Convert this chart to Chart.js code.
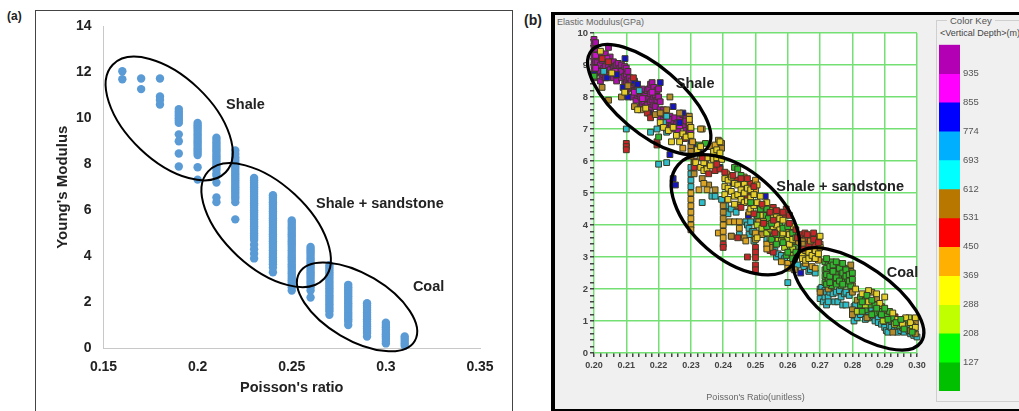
<!DOCTYPE html>
<html>
<head>
<meta charset="utf-8">
<title>Young's modulus vs Poisson's ratio</title>
<script src="https://cdn.jsdelivr.net/npm/chart.js@4"></script>
<style>
  html, body { margin: 0; padding: 0; background: #fff; overflow: hidden; }
  body { width: 1019px; height: 411px; position: relative; font-family: "Liberation Sans", Arial, sans-serif; }
  canvas { position: absolute; }
  .tag { position: absolute; font-weight: bold; color: #222; }
  #frameA { position: absolute; left: 35px; top: 10px; width: 476px; height: 420px; border: 1px solid #444; }
  #frameB { position: absolute; left: 551px; top: 12px; width: 480px; height: 394px; border: 3px solid #000; border-left-width: 4px; background: #f0f0f0; }
  #keyBox { position: absolute; left: 936px; top: 20px; width: 100px; height: 380px; border: 1px solid #cfcfcf; }
  #keyTitle { position: absolute; left: 947px; top: 15px; padding: 0 3px; background: #f0f0f0; font-size: 9.5px; color: #555; }
  #keySub { position: absolute; left: 940px; top: 28px; font-size: 9px; color: #444; white-space: nowrap; }
  #yTitleB { position: absolute; left: 557px; top: 17px; font-size: 9px; color: #666; white-space: nowrap; }
</style>
</head>
<body>
<div class="tag" style="left:7px;top:9px;font-size:12px">(a)</div>
<div class="tag" style="left:524px;top:12px;font-size:14px">(b)</div>
<div id="frameA"></div>
<div id="frameB"></div>
<div id="keyBox"></div>
<div id="keyTitle">Color Key</div>
<div id="keySub">&lt;Vertical Depth&gt;(m)</div>
<div id="yTitleB">Elastic Modulus(GPa)</div>
<canvas id="chartA" style="left:36px;top:6px" width="475" height="405"></canvas>
<canvas id="chartB" style="left:555px;top:15px" width="380" height="392"></canvas>
<canvas id="chartKey" style="left:936px;top:36px" width="83" height="375"></canvas>

<script>
// Each column is [poisson, modulus, modulus, ...]

// (a) Excel scatter
const excelColumns = [
  [0.16, 12.05, 11.7],
  [0.17, 11.73, 11.27],
  [0.18, 11.73, 10.95, 10.8, 10.6],
  [0.19, 10.4, 10.3, 10.2, 10.1, 10, 9.9, 9.8, 9.3, 9, 8.47, 7.9],
  [0.2, 9.8, 9.7, 9.6, 9.5, 9.4, 9.3, 9.2, 9.1, 9, 8.9, 8.8, 8.7, 8.6, 8.5, 8.4, 7.87, 7.33],
  [0.21, 9.15, 9.05, 8.95, 8.85, 8.75, 8.65, 8.55, 8.45, 8.35, 8.25, 8.15, 8.05, 7.95, 7.85, 7.75, 7.6, 7.5, 7.2, 6.55, 6.35],
  [0.22, 8.6, 8.45, 8.3, 8.2, 8.1, 8, 7.9, 7.8, 7.7, 7.6, 7.5, 7.4, 7.3, 7.2, 7.1, 7, 6.9, 6.8, 6.7, 6.6, 6.5, 6.35, 5.6],
  [0.23, 7.4, 7.3, 7.2, 7.1, 7, 6.9, 6.8, 6.7, 6.6, 6.5, 6.4, 6.3, 6.2, 6.1, 6, 5.9, 5.8, 5.7, 5.6, 5.5, 5.4, 5.3, 5.2, 5.1, 5, 4.9, 4.8, 4.7, 4.5, 4.3, 4.1, 3.9],
  [0.24, 6.65, 6.55, 6.45, 6.35, 6.25, 6.15, 6.05, 5.95, 5.85, 5.75, 5.65, 5.55, 5.45, 5.35, 5.25, 5.15, 5.05, 4.95, 4.85, 4.75, 4.65, 4.55, 4.45, 4.35, 4.25, 4.15, 4.05, 3.95, 3.85, 3.75, 3.65, 3.5, 3.3],
  [0.25, 5.55, 5.45, 5.35, 5.25, 5.15, 5.05, 4.95, 4.85, 4.75, 4.65, 4.55, 4.45, 4.35, 4.25, 4.15, 4.05, 3.95, 3.85, 3.75, 3.65, 3.55, 3.45, 3.35, 3.25, 3.15, 3.05, 2.95, 2.85, 2.75, 2.65, 2.5],
  [0.26, 4.4, 4.3, 4.2, 4.1, 4, 3.9, 3.8, 3.7, 3.6, 3.5, 3.4, 3.3, 3.2, 3.1, 3, 2.9, 2.8, 2.65, 2.5, 2.2],
  [0.27, 3.6, 3.5, 3.4, 3.3, 3.2, 3.1, 3, 2.9, 2.8, 2.7, 2.6, 2.5, 2.4, 2.3, 2.2, 2.1, 2, 1.9, 1.8, 1.7, 1.6, 1.45],
  [0.28, 2.75, 2.65, 2.55, 2.45, 2.35, 2.25, 2.15, 2.05, 1.95, 1.85, 1.75, 1.65, 1.55, 1.45, 1.35, 1.25, 1.15, 1],
  [0.29, 1.95, 1.85, 1.75, 1.65, 1.55, 1.45, 1.35, 1.25, 1.15, 1.05, 0.95, 0.85, 0.75, 0.65, 0.5],
  [0.3, 1.1, 1, 0.9, 0.8, 0.7, 0.6, 0.5, 0.4, 0.3, 0.2],
  [0.31, 0.5, 0.4, 0.3, 0.2, 0.1]
];

// (b) crossplot, one list per depth colour, topmost first
const redFrontColumns = [
  [0.2335, 6.1], [0.2355, 5.6], [0.238, 5.9], [0.2405, 5.65], [0.243, 5.55], [0.2455, 5.45, 4.55], [0.2475, 5.45], [0.2495, 5.2, 4.35],
  [0.252, 4.65], [0.2525, 4.05], [0.2545, 4.4], [0.2555, 4.15], [0.256, 3.75], [0.2565, 4.45], [0.2585, 4.4], [0.2605, 4.05],
  [0.2625, 3.85], [0.263, 3.6], [0.2645, 3.25], [0.266, 3.7], [0.268, 3.55], [0.2695, 3.45]
];
const greenFrontColumns = [
  [0.2455, 5.55], [0.2485, 4.7], [0.2505, 4.3], [0.2535, 4.5, 3.95], [0.255, 4.05, 3.55], [0.2565, 3.7, 3.4], [0.2585, 3.9, 3.45],
  [0.26, 3.95, 3.15], [0.2615, 3.75, 2.95], [0.2625, 3.6, 3.15], [0.272, 2.95, 2.65, 2.45, 2.15], [0.273, 2.7, 2.4, 2.2],
  [0.274, 2.75, 2.55], [0.275, 2.85, 2.35, 2.15], [0.276, 2.65, 2.25], [0.277, 2.8, 2.5, 2.15], [0.278, 2.6, 2.4], [0.279, 2.45, 2.25],
  [0.28, 2.5, 2.3], [0.283, 1.6, 1.3], [0.2845, 1.8], [0.286, 1.65, 1.2], [0.2875, 1.4], [0.289, 1.2], [0.29, 1.4], [0.291, 1.05],
  [0.2935, 0.95], [0.295, 1.05], [0.296, 0.75], [0.2985, 0.65]
];
const yellowColumns = [
  [0.202, 9.43], [0.2055, 8.75], [0.2095, 8.15], [0.2135, 7.6], [0.216, 7.65], [0.2205, 7.2], [0.2215, 7.05],
  [0.223, 6.95], [0.224, 6.6], [0.2245, 7.05], [0.2255, 6.8], [0.2265, 6.6], [0.2275, 6.85], [0.2285, 6.75],
  [0.2295, 7.3], [0.23, 7.05, 6.8], [0.232, 6.35], [0.233, 6.45, 6.15], [0.2315, 5.95], [0.233, 5.8],
  [0.234, 5.95, 5.7], [0.235, 6.1, 5.75], [0.236, 5.85], [0.237, 6.3, 6.05], [0.238, 6.35, 6.1], [0.239, 6.6, 6.25],
  [0.2395, 6.05], [0.2405, 5.45, 5.2, 4.95], [0.2415, 5.4, 5.15, 4.8], [0.2425, 5.5, 5.05], [0.2435, 5.3, 4.9, 4.65],
  [0.2445, 5.25, 4.95], [0.2455, 5.1, 4.8], [0.2465, 5.3, 5, 4.7], [0.2475, 5.15, 4.75], [0.2485, 5.1, 4.85, 4.5],
  [0.2495, 4.95, 4.6], [0.2505, 5.25, 4.7, 3.6], [0.2515, 4.9, 4.3], [0.2525, 4.6, 4.1], [0.2535, 4.7, 4],
  [0.2545, 4.45, 3.9], [0.2555, 4.3, 3.95], [0.2565, 4.25, 4], [0.2575, 4.2, 3.85], [0.2585, 4.15, 3.75],
  [0.2595, 3.9], [0.2605, 3.7, 3.4], [0.2615, 3.95, 3.55], [0.2645, 3.1, 2.95], [0.2655, 3.2, 2.9],
  [0.2665, 3.15, 2.95], [0.2675, 3.05], [0.2685, 3.2, 2.95], [0.2695, 3.1], [0.27, 3.65, 3.3], [0.281, 2],
  [0.283, 1.85], [0.285, 1.95, 1.6], [0.2875, 1.85], [0.2885, 1.55], [0.29, 1.75], [0.2925, 1.25], [0.294, 1.05],
  [0.2955, 0.9], [0.2965, 1.1], [0.298, 0.95], [0.2995, 1.1, 0.8]
];
const limeColumns = [
  [0.2505, 4], [0.252, 3.9], [0.2535, 3.75], [0.255, 3.85], [0.257, 3.55], [0.258, 3.7, 3.5], [0.259, 3.3],
  [0.26, 3.8, 3.55], [0.2615, 3.25, 3.05], [0.262, 3.8], [0.2645, 3], [0.266, 3.05], [0.2675, 3.2], [0.269, 3.1],
  [0.2815, 1.3], [0.284, 1.5], [0.2895, 1], [0.293, 0.9], [0.296, 0.85], [0.2975, 1.1], [0.2985, 0.85]
];
const greenColumns = [
  [0.2, 8.65], [0.22, 6.75], [0.2325, 6.5], [0.2345, 6.55], [0.2435, 5.8], [0.2445, 5.75], [0.2515, 4.5],
  [0.2525, 4.3], [0.254, 4.2], [0.2555, 3.65], [0.256, 4], [0.2575, 4], [0.259, 3.65], [0.2595, 3.05], [0.2605, 3.3],
  [0.2615, 3.5], [0.262, 3.3], [0.263, 3.1], [0.2715, 2.85, 2.6, 2.4, 2.2], [0.2725, 2.75, 2.5, 2.3],
  [0.2735, 2.85, 2.6, 2.35, 2.1], [0.2745, 2.5, 2.3], [0.2755, 2.7, 2.45, 2.2], [0.2765, 2.55, 2.35, 2.1],
  [0.2775, 2.65, 2.4, 2.25], [0.2785, 2.5, 2.3, 2.15], [0.2795, 2.35, 2.1], [0.2825, 1.75, 1.5], [0.284, 1.65, 1.35],
  [0.2855, 1.5], [0.287, 1.5, 1.25], [0.2885, 1.3], [0.2905, 1.15], [0.2915, 1.3], [0.2925, 1.1], [0.2945, 0.85],
  [0.297, 0.95], [0.299, 0.75]
];
const orangeColumns = [
  [0.23, 5, 4.8, 4.6, 4.4, 4.2, 4, 3.85], [0.2275, 6.4], [0.2305, 6.6], [0.233, 7], [0.2325, 5.1], [0.234, 5.3],
  [0.235, 5.1], [0.2375, 6.5], [0.2385, 3.75], [0.24, 4, 3.8, 3.6], [0.241, 5.6], [0.242, 4.1], [0.2435, 4.1],
  [0.2445, 4.6], [0.245, 4.1, 3.9], [0.2465, 5.5], [0.247, 3.5], [0.248, 4.4], [0.25, 5.4, 5.1, 3.75, 3.55],
  [0.251, 4.1], [0.2535, 3.4, 3.25], [0.2545, 3.6], [0.258, 2.85], [0.26, 2.8, 2.65], [0.262, 2.6], [0.2655, 2.8],
  [0.2675, 2.7], [0.2685, 2.65], [0.2695, 2.9]
];
const brownColumns = [
  [0.2025, 8.3], [0.2045, 7.9], [0.2085, 8], [0.2105, 8.35], [0.2125, 7.7], [0.2145, 7.6], [0.219, 7.45], [0.2205, 7.5],
  [0.2225, 7.6], [0.2235, 8], [0.2265, 7.5], [0.2295, 7.4, 7.2], [0.23, 6.45, 6.3, 6.15], [0.2335, 7], [0.231, 5.6],
  [0.2335, 5.45], [0.2355, 5.25], [0.236, 6.45], [0.2375, 5.1], [0.2385, 6.65], [0.2395, 6.55, 6.4], [0.24, 4.6, 4.4, 4.2],
  [0.2425, 3.65], [0.2465, 3.6], [0.252, 3.7], [0.2545, 3.45, 3.3], [0.2605, 2.8], [0.2625, 3.45], [0.2645, 3.5, 3.4],
  [0.267, 3.5], [0.27, 3.4, 1.9], [0.2725, 2], [0.2755, 2.4], [0.2785, 2.3], [0.2795, 2.75, 2.55], [0.28, 2.1, 1.9, 1.35, 1.2],
  [0.2815, 1.65], [0.2835, 1.6], [0.2845, 1.1], [0.286, 1.9], [0.2875, 1.7], [0.289, 1.45], [0.291, 1.3], [0.2925, 0.65],
  [0.2935, 1.05], [0.2955, 0.8], [0.298, 0.7], [0.2995, 0.95, 0.6]
];
const redColumns = [
  [0.2025, 9.2], [0.2045, 9.1], [0.21, 6.55, 6.45, 6.35], [0.2122, 8.6], [0.2165, 7.5], [0.2175, 7.35], [0.2195, 6.6, 6.5],
  [0.228, 6.7], [0.231, 6, 5.8], [0.2345, 5.9], [0.2375, 5.7], [0.239, 5.75], [0.24, 3.4, 3.3], [0.2415, 5.5], [0.2425, 3.65],
  [0.244, 5.4], [0.2445, 3.6], [0.246, 5.2], [0.2465, 5.35], [0.2475, 4.9, 3], [0.2485, 5.3], [0.25, 5.25, 3.3, 3.15, 2.98, 2.75, 2.6],
  [0.2515, 4.5], [0.2535, 4.3], [0.2545, 3.2], [0.2555, 4.55, 3.15], [0.2575, 4.4], [0.2585, 4.25], [0.2595, 4.5], [0.2605, 4.3],
  [0.264, 3.7], [0.2653, 3.75], [0.2655, 3.55], [0.2665, 3.4], [0.267, 3.65], [0.268, 3.75], [0.2685, 3.4], [0.2695, 3.6],
  [0.2767, 2.8], [0.2932, 1.13]
];
const cyanColumns = [
  [0.203, 8.8], [0.21, 7], [0.214, 8.2], [0.2175, 6.9], [0.2195, 7], [0.22, 5.9], [0.2215, 7.2], [0.2225, 7.4, 6.9, 5.95],
  [0.23, 5.8, 5.6, 5.4, 5.2], [0.2335, 4.7], [0.2365, 4.9], [0.2375, 4.9], [0.2395, 4.8], [0.2408, 4.6, 4.4], [0.2415, 4.35],
  [0.2425, 4.5], [0.244, 4.4], [0.245, 3.7], [0.247, 4.1], [0.2475, 4], [0.248, 3.9, 3.7], [0.2485, 4.1], [0.249, 3.8], [0.2495, 3.8, 3.5],
  [0.2505, 4.2], [0.252, 3.8], [0.2535, 3.55], [0.255, 3.4], [0.256, 3.2], [0.2565, 3], [0.257, 3.1], [0.258, 3.05], [0.259, 2.95],
  [0.26, 2.2], [0.261, 2.8], [0.262, 2.9], [0.2625, 2.7], [0.263, 2.75], [0.265, 2.7], [0.2665, 2.55], [0.267, 2.6], [0.2685, 2.5],
  [0.27, 2, 1.7], [0.2705, 2.05], [0.271, 1.6], [0.2715, 1.95, 1.75], [0.272, 1.9, 1.5], [0.2725, 1.75, 1.6], [0.273, 1.9], [0.274, 1.85],
  [0.2745, 1.6], [0.275, 1.9], [0.2755, 1.6], [0.276, 1.95], [0.2765, 1.75], [0.277, 1.5], [0.2775, 1.85], [0.278, 1.9, 1.5], [0.279, 1.8],
  [0.28, 1.2], [0.2805, 1.45, 1], [0.281, 1.5], [0.2815, 1.1], [0.282, 1.3], [0.2825, 1.2], [0.283, 1.4], [0.284, 1.3, 1.05],
  [0.285, 1.3, 1.1], [0.286, 1.4], [0.2865, 1.15], [0.287, 1], [0.288, 1.1, 0.95], [0.289, 0.9], [0.29, 0.95, 0.8], [0.2905, 0.7],
  [0.291, 0.65], [0.2915, 0.85], [0.292, 1, 0.8], [0.293, 0.95, 0.7], [0.294, 0.75, 0.65], [0.295, 0.9, 0.7], [0.296, 0.65],
  [0.2965, 0.8], [0.297, 0.85], [0.2975, 0.7], [0.298, 0.6], [0.299, 0.7, 0.55], [0.3, 0.5]
];
const blueColumns = [
  [0.2, 8.7], [0.204, 8.6], [0.207, 8.7], [0.209, 8.3], [0.2096, 9.2], [0.2105, 8], [0.2125, 8.5], [0.2135, 8.4], [0.217, 7.5],
  [0.2205, 8.45], [0.2235, 6.2], [0.2245, 7.7, 5.45], [0.2252, 5.25], [0.2265, 7.2], [0.2275, 7.5], [0.23, 6.6], [0.231, 6.5],
  [0.2325, 6.4], [0.237, 6.1], [0.239, 5.8], [0.243, 5.3], [0.2478, 4.3], [0.253, 4.9], [0.264, 2.5]
];
const magentaColumns = [
  [0.2005, 9.3, 8.9], [0.204, 9.2], [0.2065, 8.8], [0.2125, 8.15], [0.215, 7.95], [0.218, 8.15], [0.223, 7.3], [0.2265, 7.1]
];
const purpleColumns = [
  [0.2, 9.8, 9.6, 9.4, 9.2, 9, 8.8, 8.6], [0.2005, 9.7, 9.5, 9.1], [0.201, 9.1, 8.9], [0.2015, 9.25, 8.75], [0.202, 9.3, 9, 8.8, 8.5],
  [0.2025, 9.15, 8.65], [0.203, 9.2, 8.9, 8.7], [0.2035, 9.35, 8.95, 8.6], [0.2045, 9.55, 9, 8.7], [0.205, 9.25, 8.85], [0.2055, 9.05],
  [0.206, 9.1, 8.9, 8.6], [0.2065, 8.95, 8.75], [0.207, 9, 8.7, 8.5], [0.2075, 9.05, 8.8], [0.208, 8.9], [0.2085, 9, 8.8, 8.6],
  [0.2095, 8.95, 8.65, 8.4], [0.21, 8.9, 8.7, 8.45, 8.2], [0.2105, 8.8, 8.55], [0.211, 8.6, 8.4], [0.2115, 8.5, 8.25], [0.212, 8.3, 8],
  [0.2125, 8.45, 8.2], [0.213, 8.4, 8.2, 7.9], [0.2135, 8.3, 8.05], [0.214, 8.1], [0.2145, 8.2, 8, 7.7], [0.215, 8.25, 7.8],
  [0.2155, 8.05, 7.85], [0.216, 8.05, 7.7], [0.2165, 8.2, 7.95, 7.75], [0.217, 8.25, 7.95], [0.2175, 8.4, 8.1, 7.85, 7.6],
  [0.218, 8.45, 7.9], [0.2185, 8.3, 8, 7.75], [0.219, 8.05, 7.7], [0.2195, 8.2, 7.9], [0.22, 8.25, 8], [0.2205, 7.85, 7.6, 7.35],
  [0.2215, 7.6, 7.3], [0.222, 7.45, 7.15], [0.2225, 7.3, 7], [0.2235, 7.4, 7.2], [0.224, 7.1], [0.2245, 7.25], [0.225, 7.35, 7],
  [0.2255, 7.15], [0.226, 7.2, 6.95], [0.2265, 7.35], [0.2275, 7.45, 7.1], [0.2285, 7.4, 7.25, 6.95], [0.2295, 7.15, 7.05, 6.9], [0.23, 6.95]
];

// Colour key, deepest band first
const keyDepths = [935, 855, 774, 693, 612, 531, 450, 369, 288, 208, 127];
const keyBands = [[935, 1016], [855, 935], [774, 855], [693, 774], [612, 693], [531, 612], [450, 531], [369, 450], [288, 369], [208, 288], [127, 208], [46, 127]];
const keyColors = ["#b400b4", "#ff00ff", "#0000ff", "#00b0ff", "#00ffff", "#b87800", "#ff0000", "#ffb000", "#ffff00", "#c0ff00", "#00ff00", "#00c000"];

const toPoints = (columns) => columns.flatMap(([x, ...ys]) => ys.map((y) => ({ x, y })));

const boldFont = (size) => ({ family: "'Liberation Sans'", size, weight: "bold" });

// Draws the hand-drawn ellipses and rock labels in data coordinates
const notesPlugin = {
  id: "notes",
  beforeDraw(chart, args, opts) {
    if (!opts.plotFill) return;
    const { left, top, width, height } = chart.chartArea;
    chart.ctx.fillStyle = opts.plotFill;
    chart.ctx.fillRect(left, top, width, height);
  },
  afterDatasetsDraw(chart, args, opts) {
    const { ctx, scales } = chart;
    ctx.save();
    ctx.strokeStyle = "#000";
    ctx.lineWidth = opts.lineWidth;
    (opts.ellipses || []).forEach((e) => {
      ctx.beginPath();
      ctx.ellipse(scales.x.getPixelForValue(e.x), scales.y.getPixelForValue(e.y), e.a, e.b, (e.angle * Math.PI) / 180, 0, Math.PI * 2);
      ctx.stroke();
    });
    ctx.fillStyle = "#222";
    ctx.font = "bold 14.5px 'Liberation Sans'";
    ctx.textAlign = "center";
    ctx.textBaseline = "middle";
    (opts.labels || []).forEach((l) => {
      ctx.fillText(l.text, scales.x.getPixelForValue(l.x), scales.y.getPixelForValue(l.y));
    });
    ctx.restore();
  },
};
Chart.register(notesPlugin);
Chart.defaults.animation = false;
Chart.defaults.responsive = false;
Chart.defaults.plugins.legend.display = false;
Chart.defaults.plugins.tooltip.enabled = false;

new Chart(document.getElementById("chartA"), {
  type: "scatter",
  data: {
    datasets: [
      {
        data: toPoints(excelColumns),
        backgroundColor: "#5b9bd5",
        borderWidth: 0,
        pointRadius: 4.2,
        clip: false,
      },
    ],
  },
  options: {
    layout: { padding: { left: 0, right: 31, top: 19, bottom: 0 } },
    scales: {
      x: {
        min: 0.15,
        max: 0.35,
        afterFit: (s) => { s.height = 63; },
        grid: { display: false, drawTicks: false },
        border: { color: "#c8c8c8" },
        ticks: {
          stepSize: 0.05,
          padding: 11,
          maxRotation: 0,
          color: "#222",
          font: boldFont(14),
          callback: (v) => String(Number(v.toFixed(2))),
        },
        title: { display: true, text: "Poisson's ratio", color: "#222", font: boldFont(14.5), padding: { top: 0, bottom: 14 } },
      },
      y: {
        min: 0,
        max: 14,
        afterFit: (s) => { s.width = 67.5; },
        grid: { display: false, drawTicks: false },
        border: { color: "#c8c8c8" },
        ticks: { stepSize: 2, padding: 12, color: "#222", font: boldFont(14) },
        title: { display: true, text: "Young's Modulus", color: "#222", font: boldFont(15), padding: { top: 18, bottom: 0 } },
      },
    },
    plugins: {
      notes: {
        lineWidth: 2,
        ellipses: [
          { x: 0.1849, y: 9.99, a: 78, b: 42, angle: 43.6 },
          { x: 0.2364, y: 5.35, a: 79, b: 42, angle: 42.8 },
          { x: 0.2847, y: 1.79, a: 67, b: 33, angle: 30.6 },
        ],
        labels: [
          { text: "Shale", x: 0.2254, y: 10.56 },
          { text: "Shale + sandstone", x: 0.2968, y: 6.28 },
          { text: "Coal", x: 0.3227, y: 2.65 },
        ],
      },
    },
  },
});

const depthSeries = [
  [redFrontColumns, "#c4262a"],
  [greenFrontColumns, "#2fb52f"],
  [yellowColumns, "#e6cf2a"],
  [limeColumns, "#b5d41e"],
  [greenColumns, "#2fb52f"],
  [orangeColumns, "#dca424"],
  [brownColumns, "#b58a2a"],
  [redColumns, "#c4262a"],
  [cyanColumns, "#2fbccb"],
  [blueColumns, "#1414c0"],
  [magentaColumns, "#c814c8"],
  [purpleColumns, "#a810a8"],
];

new Chart(document.getElementById("chartB"), {
  type: "scatter",
  data: {
    datasets: depthSeries.map(([columns, color]) => ({
      data: toPoints(columns),
      pointStyle: "rect",
      pointRadius: 4.1,
      backgroundColor: color,
      borderColor: "#3a3a24",
      borderWidth: 1,
      clip: false,
    })),
  },
  options: {
    layout: { padding: { left: 0, right: 18, top: 18, bottom: 0 } },
    scales: {
      x: {
        min: 0.2,
        max: 0.3,
        afterFit: (s) => { s.height = 54; },
        grid: {
          color: (c) => (c.index % 5 === 0 ? "#74e074" : "transparent"),
          lineWidth: 1.5,
          tickColor: "#444",
          tickLength: 4,
        },
        border: { display: false },
        ticks: {
          stepSize: 0.002,
          autoSkip: false,
          maxRotation: 0,
          padding: 3,
          color: "#444",
          font: boldFont(9),
          callback: (v, i) => (i % 5 === 0 ? v.toFixed(2) : ""),
        },
        title: { display: true, text: "Poisson's Ratio(unitless)", color: "#666", font: { family: "'Liberation Sans'", size: 9 }, padding: { top: 0, bottom: 4.5 } },
      },
      y: {
        min: 0,
        max: 10,
        afterFit: (s) => { s.width = 39; },
        grid: {
          color: (c) => (c.index % 5 === 0 ? "#74e074" : "transparent"),
          lineWidth: 1.5,
          tickColor: "#444",
          tickLength: 4,
        },
        border: { display: false },
        ticks: {
          stepSize: 0.2,
          autoSkip: false,
          padding: 2,
          color: "#444",
          font: boldFont(9.5),
          callback: (v, i) => (i % 5 === 0 ? String(Math.round(v)) : ""),
        },
      },
    },
    plugins: {
      notes: {
        plotFill: "#fff",
        lineWidth: 3.3,
        ellipses: [
          { x: 0.2171, y: 7.92, a: 75.6, b: 33, angle: 40.3 },
          { x: 0.2438, y: 4.32, a: 76, b: 44, angle: 41.1 },
          { x: 0.2819, y: 1.69, a: 76, b: 33, angle: 34.8 },
        ],
        labels: [
          { text: "Shale", x: 0.2313, y: 8.42 },
          { text: "Shale + sandstone", x: 0.2762, y: 5.2 },
          { text: "Coal", x: 0.2955, y: 2.5 },
        ],
      },
    },
  },
});

new Chart(document.getElementById("chartKey"), {
  type: "bar",
  data: {
    labels: ["Depth"],
    datasets: keyBands.map((band, i) => ({
      data: [band],
      backgroundColor: keyColors[i],
      grouped: false,
      barPercentage: 1,
      categoryPercentage: 1,
    })),
  },
  options: {
    layout: { padding: { left: 3, right: 0, top: 7, bottom: 20 } },
    scales: {
      x: { display: false },
      y: {
        position: "right",
        min: 46,
        max: 1016,
        afterBuildTicks: (s) => { s.ticks = keyDepths.map((value) => ({ value })); },
        afterFit: (s) => { s.width = 59; },
        grid: { display: false, drawTicks: false },
        border: { display: false },
        ticks: {
          autoSkip: false,
          padding: 3,
          color: "#555",
          font: { family: "'Liberation Sans'", size: 9.5 },
        },
      },
    },
  },
});
</script>
</body>
</html>
